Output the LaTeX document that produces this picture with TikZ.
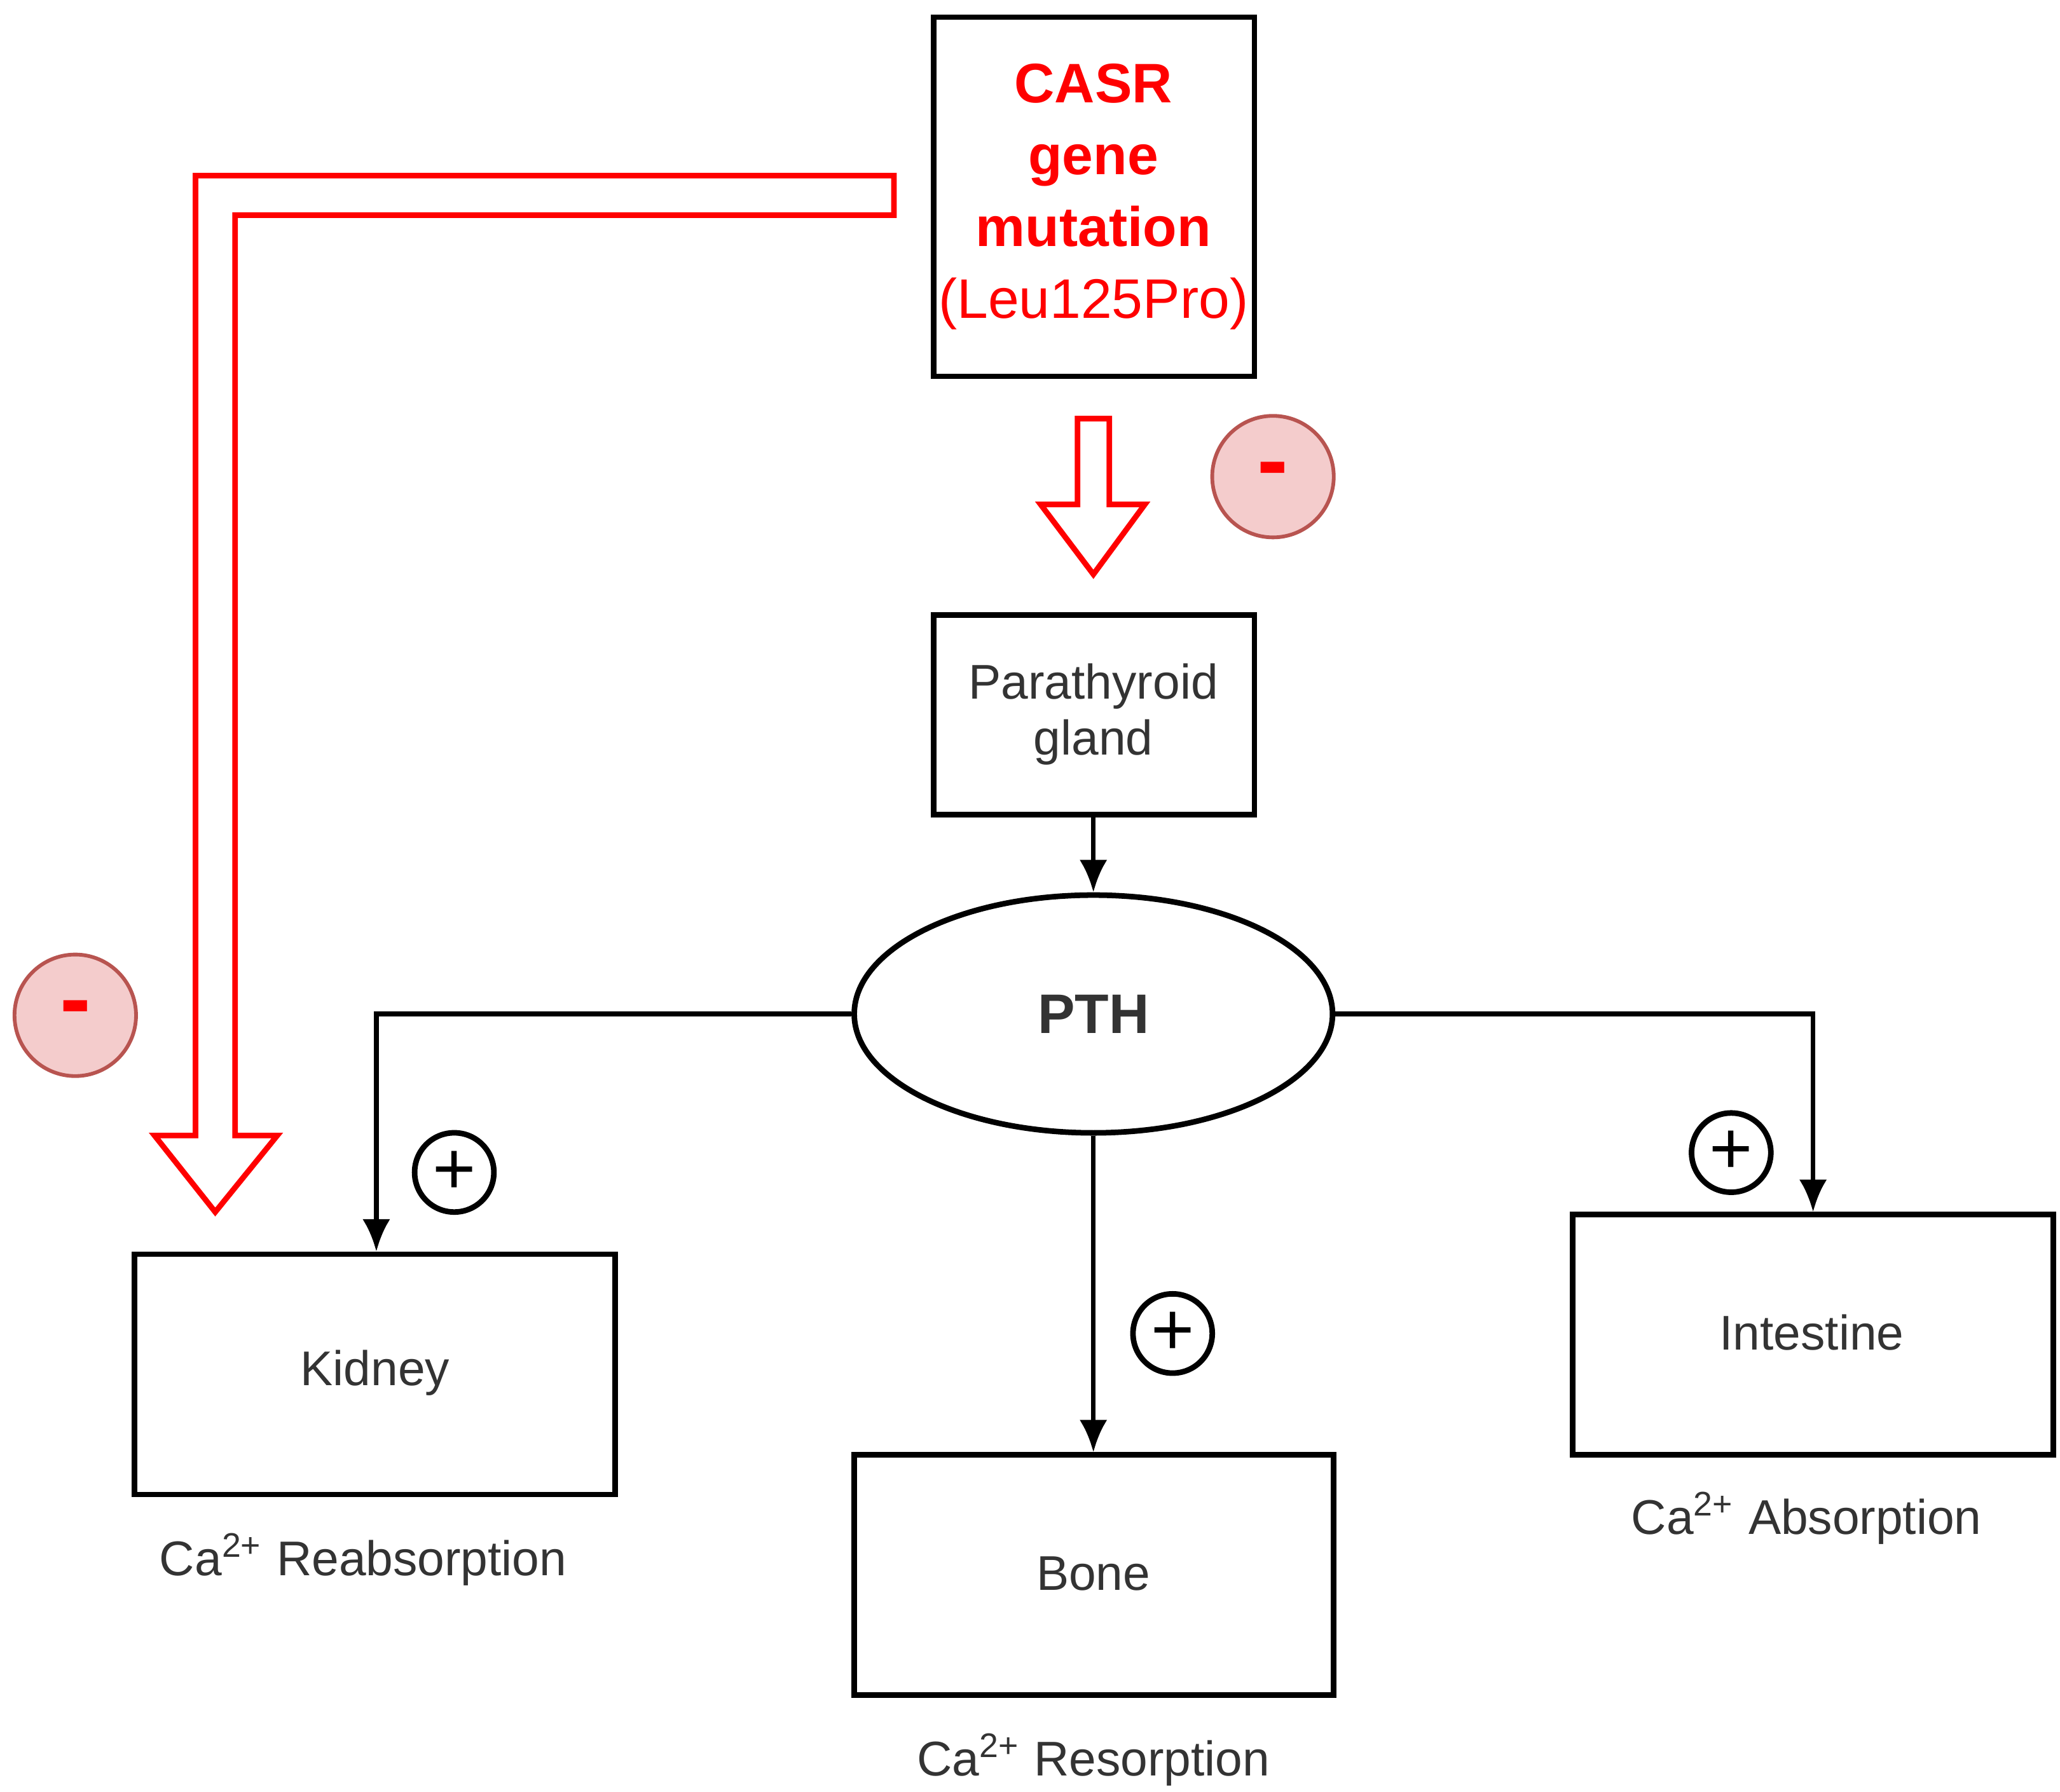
\documentclass[tikz,border=0pt]{standalone}
\usepackage{fontspec}
\setmainfont{Liberation Sans}
\usetikzlibrary{shapes.geometric}
\definecolor{txt}{HTML}{333333}
\definecolor{pinkf}{HTML}{F4CCCC}
\definecolor{pinkd}{HTML}{B85450}
\begin{document}
\begin{tikzpicture}[x=0.01cm,y=-0.01cm,
  box/.style={draw=black,line width=1.2pt,minimum width=#1,inner sep=0},
  lbl/.style={font=\fontsize{10.5}{12}\selectfont,text=txt},
  arr/.style={-{Latex[length=7pt,width=6pt]},line width=1pt},
  plus/.style={circle,draw,line width=1.2pt,minimum size=0.6cm,inner sep=0,font=\fontsize{16}{16}\selectfont},
  minus/.style={circle,draw=pinkd,fill=pinkf,line width=0.8pt,minimum size=0.92cm,inner sep=0,text=red,font=\fontsize{20}{20}\selectfont\bfseries},
  hollow/.style={draw=red,line width=1.2pt,fill=white}]
\usetikzlibrary{arrows.meta}
\useasboundingbox (0,0) rectangle (1560,1357);
\draw[box] (707,13) rectangle (950,285);
\node (casr) at (828,149) [align=center,text=red,font=\fontsize{12}{15.5}\selectfont] {\textbf{CASR}\\\textbf{gene}\\\textbf{mutation}\\(Leu125Pro)};
\draw[hollow] (816,317) -- (840,317) -- (840,382) -- (867,382) -- (828,435) -- (788,382) -- (816,382) -- cycle;
\node[minus] (m1) at (964,361) {-};
\draw[box] (707,466) rectangle (950,617);
\node[lbl,align=center] (para) at (828,541) {Parathyroid\\gland};
\node[ellipse,draw,line width=1.2pt,minimum width=3.62cm,minimum height=1.8cm,font=\fontsize{12}{12}\selectfont\bfseries,text=txt] (pth) at (828,768) {PTH};
\coordinate (parab) at (828,617);
\draw[arr] (parab) -- (pth.north);
\draw[box] (102,950) rectangle (466,1132);
\node[lbl] (kid) at (284,1040) {Kidney};
\draw[box] (647,1102) rectangle (1010,1284);
\node[lbl] (bone) at (828,1192) {Bone};
\draw[box] (1191,920) rectangle (1555,1102);
\node[lbl] (int) at (1372,1009) {Intestine};
\coordinate (kt) at (285,948);
\coordinate (bt) at (828,1100);
\coordinate (it) at (1373,918);
\draw[arr] (pth.west) -| (kt);
\draw[arr] (pth.south) -- (bt);
\draw[arr] (pth.east) -| (it);
\node[plus] (p1) at (344,888) {+};
\node[plus] (p2) at (888,1010) {+};
\node[plus] (p3) at (1311,873) {+};
\node[lbl] (l1) at (275,1181) {Ca\textsuperscript{2+} Reabsorption};
\node[lbl] (l2) at (828,1333) {Ca\textsuperscript{2+} Resorption};
\node[lbl] (l3) at (1368,1150) {Ca\textsuperscript{2+} Absorption};
\draw[hollow] (677,133) -- (148,133) -- (148,860) -- (117,860) -- (163,918) -- (210,860) -- (178,860) -- (178,163) -- (677,163) -- cycle;
\node[minus] (m2) at (57,769) {-};
\end{tikzpicture}
\end{document}
